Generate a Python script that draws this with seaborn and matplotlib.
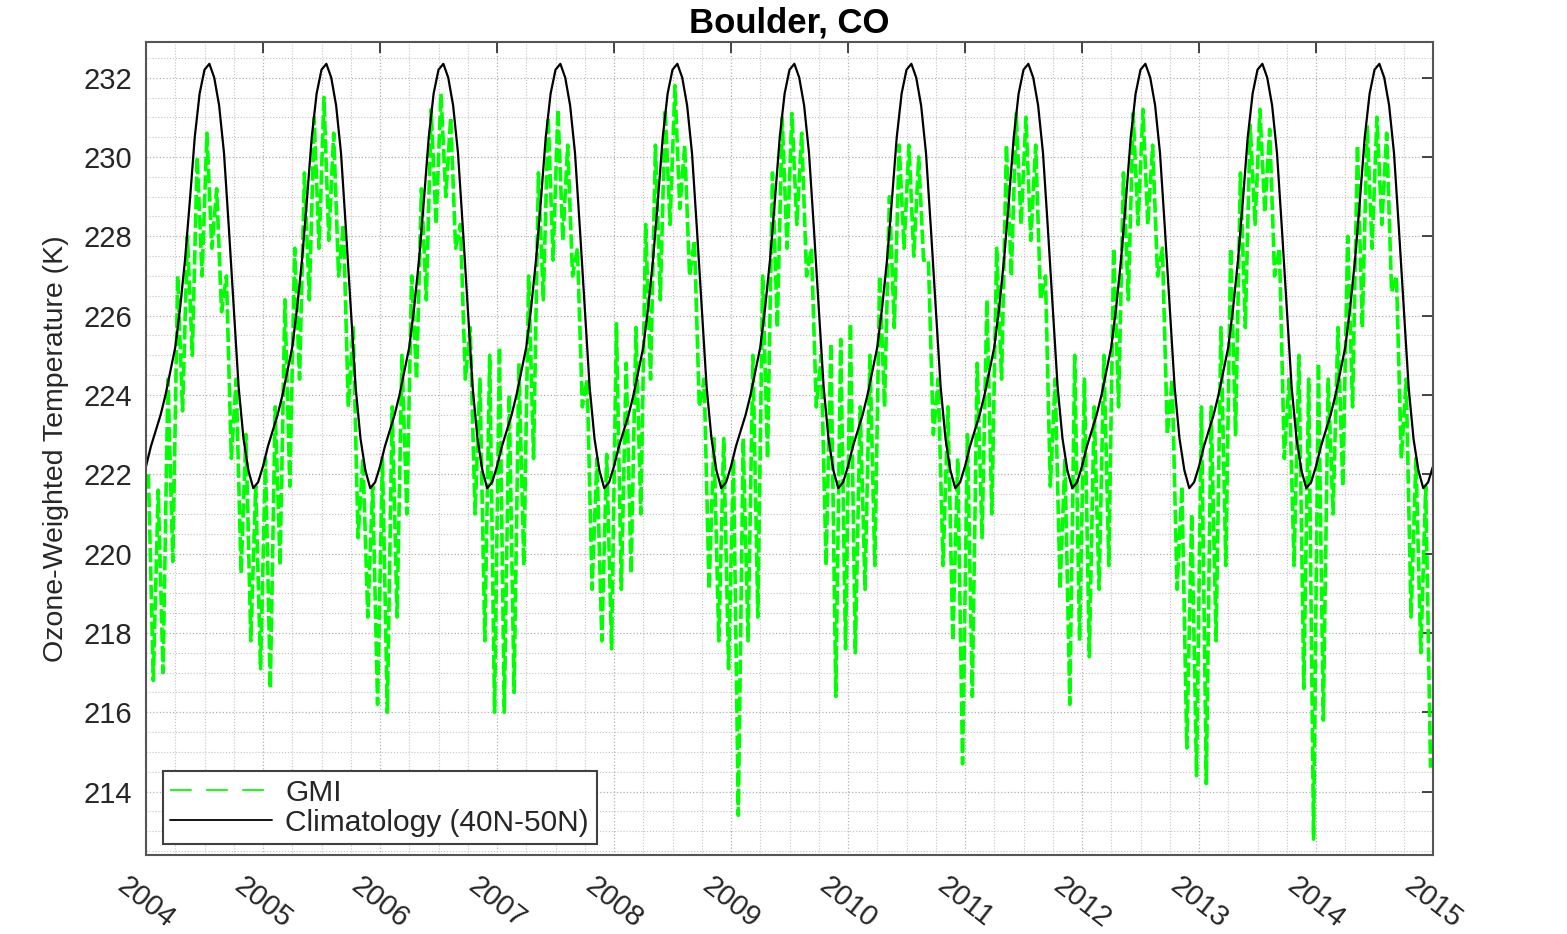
import numpy as np
import pandas as pd
import matplotlib
matplotlib.use("Agg")
import matplotlib.pyplot as plt
from matplotlib.lines import Line2D
import seaborn as sns

# ── data ─────────────────────────────────────────────────────────────
years = list(range(2004, 2015))
tick_years = list(range(2004, 2016))

# GMI: monthly upper / lower extent of the daily series (K), Jan..Dec
gmi_high = [
    222.0, 221.6, 224.4, 227.0, 228.0, 230.0, 230.6, 229.2, 227.0, 224.4, 223.0, 221.7,  # 2004
    222.4, 223.7, 226.4, 227.7, 229.6, 231.0, 231.5, 230.6, 228.3, 225.7, 222.4, 221.7,  # 2005
    222.4, 223.7, 225.0, 227.0, 229.2, 231.2, 231.6, 231.0, 228.3, 225.7, 224.4, 225.0,  # 2006
    225.2, 224.0, 224.8, 227.0, 229.6, 231.0, 231.2, 230.3, 227.7, 224.4, 222.4, 222.5,  # 2007
    225.8, 224.8, 225.7, 228.3, 230.3, 231.2, 231.8, 230.3, 227.9, 224.4, 222.9, 222.9,  # 2008
    222.4, 222.9, 225.0, 227.0, 229.6, 231.0, 231.1, 230.6, 227.7, 225.0, 225.3, 225.4,  # 2009
    225.8, 223.7, 225.0, 227.0, 229.0, 230.3, 230.3, 230.0, 227.4, 224.4, 223.7, 222.4,  # 2010
    223.0, 224.8, 226.4, 227.7, 230.3, 231.1, 231.0, 230.3, 227.0, 224.4, 222.4, 225.0,  # 2011
    224.4, 223.7, 225.0, 227.7, 229.6, 231.1, 231.2, 230.3, 227.7, 224.4, 221.7, 221.0,  # 2012
    223.7, 223.7, 225.7, 227.7, 229.6, 230.8, 231.2, 230.7, 227.7, 224.4, 225.0, 224.4,  # 2013
    224.8, 224.4, 225.7, 228.0, 230.3, 230.8, 231.0, 230.6, 227.0, 224.4, 222.4, 221.7,  # 2014
]
gmi_low = [
    216.8, 217.0, 219.8, 223.6, 225.0, 227.0, 227.7, 226.1, 222.4, 219.5, 217.8, 217.1,  # 2004
    216.6, 219.7, 221.7, 224.4, 226.4, 227.7, 227.9, 227.0, 223.7, 220.4, 218.4, 216.2,  # 2005
    216.0, 218.4, 221.0, 224.4, 226.4, 228.3, 229.0, 227.7, 224.4, 221.0, 217.8, 216.0,  # 2006
    216.0, 216.5, 219.7, 222.4, 226.4, 227.4, 227.9, 227.0, 223.7, 219.1, 217.8, 217.6,  # 2007
    219.1, 219.5, 221.0, 224.4, 226.4, 228.3, 228.7, 227.0, 223.7, 219.1, 217.8, 217.1,  # 2008
    213.4, 217.8, 218.4, 222.4, 225.7, 227.7, 228.3, 227.0, 223.7, 219.7, 216.4, 217.6,  # 2009
    217.5, 219.1, 219.7, 223.7, 225.7, 227.7, 227.5, 227.4, 223.0, 219.7, 217.8, 214.7,  # 2010
    216.4, 220.4, 221.0, 224.4, 227.0, 228.3, 227.9, 226.4, 221.7, 219.1, 216.2, 217.8,  # 2011
    217.4, 219.1, 219.7, 223.7, 226.4, 228.3, 228.3, 227.0, 223.0, 219.1, 215.1, 214.4,  # 2012
    214.2, 217.8, 219.7, 223.0, 225.7, 228.3, 228.6, 227.0, 222.4, 219.7, 216.6, 212.8,  # 2013
    215.8, 221.0, 221.7, 223.7, 225.7, 227.7, 228.3, 226.6, 222.4, 218.4, 217.5, 214.6,  # 2014
]

# climatology (40N-50N): one annual cycle, twice a month (K)
clim_cycle = [222.2, 222.7, 223.1, 223.5, 224.0, 224.6, 225.2, 226.2,
              227.4, 228.9, 230.5, 231.6, 232.2, 232.35, 232.0, 231.3,
              230.1, 228.2, 226.2, 224.2, 222.9, 222.1, 221.65, 221.8]

# ── build frames ─────────────────────────────────────────────────────
months = np.arange(len(gmi_high))
t_hi = years[0] + (months + 0.25) / 12
t_lo = years[0] + (months + 0.75) / 12
gmi = pd.DataFrame({
    "t": np.column_stack([t_hi, t_lo]).ravel(),
    "T": np.column_stack([gmi_high, gmi_low]).ravel(),
})

n_cyc = len(clim_cycle)
clim = pd.DataFrame({
    "t": years[0] + np.arange(len(years) * n_cyc + 1) / n_cyc,
    "T": np.append(np.tile(clim_cycle, len(years)), clim_cycle[0]),
})

# ── plot ─────────────────────────────────────────────────────────────
sns.set_style("white")
plt.rcParams["font.family"] = ["Liberation Sans", "DejaVu Sans"]

fig = plt.figure(figsize=(15.67, 9.34), dpi=100)
ax = fig.add_axes([146 / 1567, 1 - 855 / 934, 1287 / 1567, 813 / 934])

sns.lineplot(data=gmi, x="t", y="T", ax=ax, color="#00ff00", lw=2.6,
             linestyle=(0, (4, 1.1)), estimator=None, sort=False)
sns.lineplot(data=clim, x="t", y="T", ax=ax, color="black", lw=1.6,
             estimator=None, sort=False)

ax.set_xlim(2004, 2015)
ax.set_ylim(212.4, 232.9)
ax.set_xticks(tick_years)
ax.set_xticklabels([str(y) for y in tick_years], rotation=-38,
                   ha="center", va="top")
ax.set_yticks(np.arange(214, 233, 2))
ax.set_xticks(np.arange(2004, 2015.01, 0.25), minor=True)
ax.set_yticks(np.arange(212.5, 233, 0.5), minor=True)

ax.grid(which="major", color="#b0b0b0", linestyle=":", lw=0.9)
ax.grid(which="minor", color="#c4c4c4", linestyle=":", lw=0.8)
ax.tick_params(which="major", direction="in", length=8, width=1.2,
               top=True, right=True, labelsize=21, colors="#262626")
ax.tick_params(axis="x", pad=12)
ax.tick_params(axis="y", pad=10)
ax.tick_params(which="minor", length=0)
for s in ax.spines.values():
    s.set_color("#555555")
    s.set_linewidth(1.5)

ax.set_xlabel("")
ax.set_ylabel("Ozone-Weighted Temperature (K)", fontsize=20.5,
              color="#262626", labelpad=10)
ax.set_title("Boulder, CO", fontsize=25, fontweight="bold", pad=7,
             color="black")

handles = [
    Line2D([], [], color="#00ff00", lw=1.3, linestyle=(0, (12, 8))),
    Line2D([], [], color="black", lw=1.3),
]
leg = ax.legend(handles, ["GMI", "Climatology (40N-50N)"],
                loc="lower left", bbox_to_anchor=(0.0132, 0.0135),
                borderaxespad=0, fontsize=21.5, handlelength=3.4,
                handletextpad=0.45, labelspacing=0.06, borderpad=0.25,
                frameon=True, fancybox=False, edgecolor="#404040",
                framealpha=1)
leg.get_frame().set_linewidth(1.5)
for txt in leg.get_texts():
    txt.set_color("#262626")

fig.savefig("out.png", dpi=100)
